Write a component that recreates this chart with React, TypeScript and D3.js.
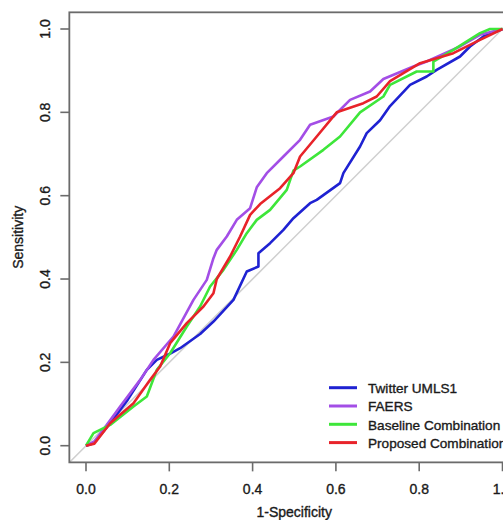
import React from "react";
import * as d3 from "d3";

const seriesNames = ["Twitter UMLS1", "FAERS", "Baseline Combination", "Proposed Combination"];
const seriesColors = ["#1f22d2", "#a34ee6", "#3ee63a", "#e8232a"];
const xTicks = [0, 0.2, 0.4, 0.6, 0.8, 1.0];
const yTicks = [0, 0.2, 0.4, 0.6, 0.8, 1.0];

const twitterUmls1: [number, number][] = [
  [0, 0], [0.018, 0.006], [0.03, 0.02], [0.058, 0.054], [0.1, 0.11], [0.146, 0.182], [0.17, 0.206],
  [0.2, 0.22], [0.226, 0.234], [0.274, 0.268], [0.306, 0.298], [0.354, 0.35], [0.386, 0.418],
  [0.414, 0.43], [0.414, 0.462], [0.442, 0.486], [0.474, 0.518], [0.498, 0.546], [0.538, 0.582],
  [0.554, 0.59], [0.61, 0.63], [0.618, 0.654], [0.658, 0.718], [0.674, 0.75], [0.706, 0.781],
  [0.73, 0.815], [0.778, 0.866], [0.818, 0.886], [0.842, 0.902], [0.898, 0.934], [0.922, 0.958],
  [0.954, 0.982], [1, 1],
];
const faers: [number, number][] = [
  [0, 0], [0.02, 0.01], [0.05, 0.05], [0.082, 0.094], [0.13, 0.158], [0.162, 0.206], [0.21, 0.262],
  [0.258, 0.35], [0.29, 0.398], [0.306, 0.45], [0.314, 0.47], [0.338, 0.502], [0.362, 0.542],
  [0.394, 0.57], [0.41, 0.62], [0.434, 0.654], [0.474, 0.694], [0.514, 0.734], [0.538, 0.77],
  [0.594, 0.79], [0.634, 0.83], [0.682, 0.85], [0.714, 0.88], [0.786, 0.91], [0.818, 0.922],
  [0.898, 0.958], [0.946, 0.986], [1, 1],
];
const baselineCombination: [number, number][] = [
  [0, 0], [0.018, 0.03], [0.058, 0.05], [0.114, 0.094], [0.146, 0.118], [0.17, 0.182], [0.202, 0.222],
  [0.242, 0.286], [0.274, 0.334], [0.298, 0.382], [0.33, 0.422], [0.362, 0.47], [0.386, 0.51],
  [0.41, 0.542], [0.442, 0.566], [0.482, 0.614], [0.498, 0.66], [0.514, 0.67], [0.57, 0.71],
  [0.61, 0.742], [0.658, 0.8], [0.714, 0.838], [0.73, 0.866], [0.794, 0.898], [0.834, 0.898],
  [0.834, 0.922], [0.882, 0.95], [0.946, 0.99], [0.97, 1], [1, 1],
];
const proposedCombination: [number, number][] = [
  [0, 0], [0.02, 0.005], [0.058, 0.054], [0.114, 0.102], [0.154, 0.158], [0.178, 0.19], [0.202, 0.246],
  [0.242, 0.294], [0.282, 0.334], [0.306, 0.366], [0.314, 0.4], [0.346, 0.454], [0.37, 0.502],
  [0.394, 0.554], [0.418, 0.58], [0.466, 0.618], [0.498, 0.654], [0.514, 0.694], [0.554, 0.742],
  [0.602, 0.8], [0.666, 0.822], [0.698, 0.838], [0.73, 0.875], [0.802, 0.918], [0.882, 0.942],
  [0.946, 0.974], [1, 1],
];
const allSeries = [twitterUmls1, faers, baselineCombination, proposedCombination];

export default function App() {
  const W = 503, H = 520;
  const x = d3.scaleLinear().domain([0, 1]).range([86, 502.5]);
  const y = d3.scaleLinear().domain([0, 1]).range([445.7, 29]);
  const [bx0, bx1] = [x(-0.04), x(1.04)];
  const [by0, by1] = [y(1.04), y(-0.04)];
  const line = d3.line<[number, number]>().x((d) => x(d[0])).y((d) => y(d[1]));
  const font = "'Liberation Sans', Arial, Helvetica, sans-serif";
  const textColor = "#1a1a1a";
  const axisColor = "#6b6b6b";
  const tStroke = { stroke: textColor, strokeWidth: 0.35 };
  return (
    <div style={{ position: "fixed", left: 0, top: 0, width: W, height: H, background: "#fff" }}>
      <svg width={W} height={H} style={{ display: "block" }} fontFamily={font}>
        <defs>
          <clipPath id="plotclip">
            <rect x={bx0} y={by0} width={bx1 - bx0} height={by1 - by0} />
          </clipPath>
        </defs>
        <rect x={0} y={0} width={W} height={H} fill="#fff" />
        <g clipPath="url(#plotclip)">
          <line x1={x(-0.04)} y1={y(-0.04)} x2={x(1.04)} y2={y(1.04)} stroke="#cfcfcf" strokeWidth={1.5} />
          {allSeries.map((s, i) => (
            <path key={i} d={line(s) || ""} fill="none" stroke={seriesColors[i]} strokeWidth={2.6} strokeLinejoin="round" />
          ))}
        </g>
        <rect x={bx0} y={by0} width={bx1 - bx0} height={by1 - by0} fill="none" stroke={axisColor} strokeWidth={1.8} />
        {xTicks.map((t) => (
          <g key={"x" + t}>
            <line x1={x(t)} x2={x(t)} y1={by1} y2={by1 + 9} stroke={axisColor} strokeWidth={1.6} />
            <text x={x(t)} y={493.5} textAnchor="middle" fontSize={14} fill={textColor} {...tStroke}>{t.toFixed(1)}</text>
          </g>
        ))}
        {yTicks.map((t) => (
          <g key={"y" + t}>
            <line x1={bx0 - 9} x2={bx0} y1={y(t)} y2={y(t)} stroke={axisColor} strokeWidth={1.6} />
            <text transform={`translate(49.5,${y(t)}) rotate(-90)`} textAnchor="middle" fontSize={14} fill={textColor} {...tStroke}>{t.toFixed(1)}</text>
          </g>
        ))}
        <text x={(bx0 + bx1) / 2} y={516.7} textAnchor="middle" fontSize={14} fill={textColor} {...tStroke}>1-Specificity</text>
        <text transform={`translate(22.5,${(by0 + by1) / 2}) rotate(-90)`} textAnchor="middle" fontSize={14} fill={textColor} {...tStroke}>Sensitivity</text>
        {seriesNames.map((n, i) => {
          const ly = 387.7 + i * 18.3;
          return (
            <g key={n}>
              <line x1={329} x2={357} y1={ly} y2={ly} stroke={seriesColors[i]} strokeWidth={3} />
              <text x={368} y={ly + 5.3} fontSize={13.6} fill={textColor} {...tStroke}>{n}</text>
            </g>
          );
        })}
      </svg>
    </div>
  );
}
